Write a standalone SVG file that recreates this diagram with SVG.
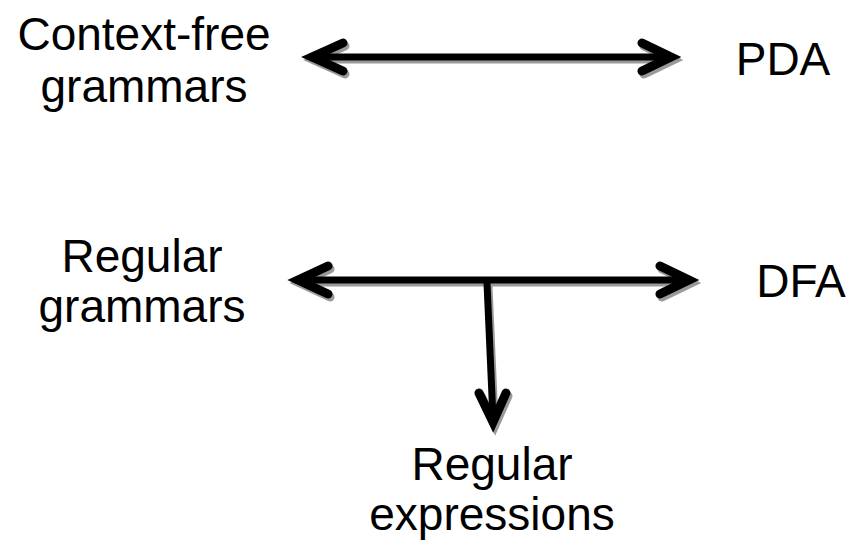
<svg xmlns="http://www.w3.org/2000/svg" width="851" height="545" viewBox="0 0 851 545">
  <style>
    .label { font-family: "Liberation Sans", Arial, sans-serif; font-size: 46px; fill: #000; text-anchor: middle; }
    .shaft { fill: none; stroke: #000; stroke-width: 7; stroke-linecap: round; stroke-linejoin: round; }
    .head { fill: none; stroke: #000; stroke-width: 9; stroke-linecap: round; stroke-linejoin: miter; }
    .shadow { stroke: #9a9a9a; }
  </style>
  <defs>
    <!-- shafts and heads of the arrows, reused for shadow and stroke -->
    <path id="shaftTop" d="M314,57 L668,57"/>
    <path id="headsTop" d="M343,43 L312,57 L343,71 M642,43 L671,57 L642,71"/>
    <path id="shaftBottom" d="M300,280 L687,280"/>
    <path id="headsBottom" d="M328,266 L298,280 L328,294 M660,266 L689,280 L660,294"/>
    <path id="shaftDown" d="M487,283 L493,419"/>
    <path id="headDown" d="M479,393 L493,422 L506,393"/>
  </defs>
  <rect width="851" height="545" fill="#fff"/>

  <g id="connectors">
    <g transform="translate(2,3)">
      <use href="#shaftTop" class="shaft shadow"/>
      <use href="#headsTop" class="head shadow"/>
      <use href="#shaftBottom" class="shaft shadow"/>
      <use href="#headsBottom" class="head shadow"/>
      <use href="#shaftDown" class="shaft shadow"/>
      <use href="#headDown" class="head shadow"/>
    </g>
    <use href="#shaftTop" class="shaft"/>
    <use href="#headsTop" class="head"/>
    <use href="#shaftBottom" class="shaft"/>
    <use href="#headsBottom" class="head"/>
    <use href="#shaftDown" class="shaft"/>
    <use href="#headDown" class="head"/>
  </g>

  <g id="cfg">
    <text class="label" x="144" y="50">Context-free</text>
    <text class="label" x="144" y="102">grammars</text>
  </g>
  <g id="pda">
    <text class="label" x="783" y="75">PDA</text>
  </g>
  <g id="regular-grammars">
    <text class="label" x="142" y="272">Regular</text>
    <text class="label" x="142" y="322">grammars</text>
  </g>
  <g id="dfa">
    <text class="label" x="801" y="297">DFA</text>
  </g>
  <g id="regular-expressions">
    <text class="label" x="492" y="480">Regular</text>
    <text class="label" x="492" y="530">expressions</text>
  </g>
</svg>
